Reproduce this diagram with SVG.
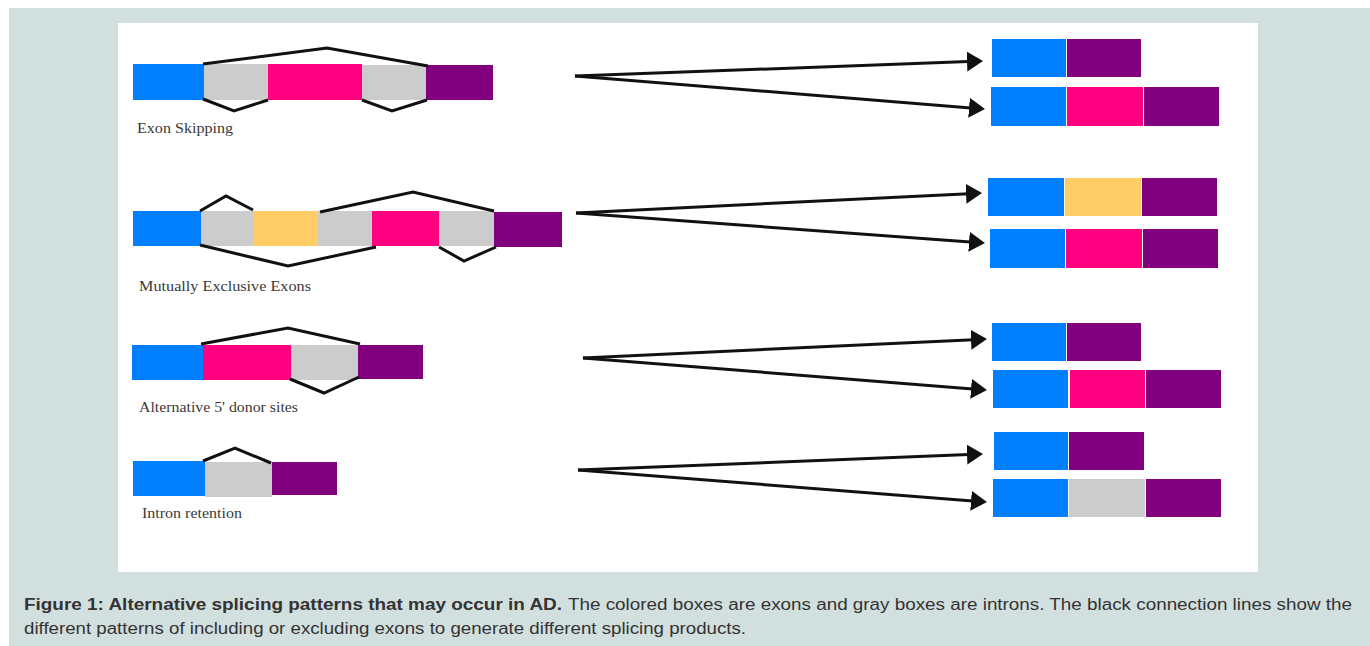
<svg xmlns="http://www.w3.org/2000/svg" width="1370" height="646" viewBox="0 0 1370 646">
  <style>
    .blue{fill:#0080ff}
    .pink{fill:#ff0080}
    .purple{fill:#800080}
    .gray{fill:#cccccc}
    .yellow{fill:#ffcc66}
    .splice{fill:none;stroke:#111;stroke-width:3;stroke-linejoin:miter}
    .arrow{fill:none;stroke:#111;stroke-width:3}
    .label{font-family:"Liberation Serif","Times New Roman",serif;font-size:15px;fill:#3a3a3a}
    .cap{font-family:"Liberation Sans",Arial,sans-serif;font-size:16px;fill:#333}
    .capb{font-weight:bold}
  </style>
  <defs>
    <marker id="head" markerUnits="userSpaceOnUse" viewBox="0 0 16 20" markerWidth="16" markerHeight="20" refX="8" refY="10" orient="auto">
      <path d="M0,0 L16,10 L0,20 z" fill="#111"/>
    </marker>
  </defs>

  <rect x="0" y="0" width="1370" height="646" fill="#ffffff"/>
  <rect x="9" y="8" width="1361" height="638" fill="#d2dfdf"/>
  <rect x="118" y="23" width="1140" height="549" fill="#ffffff"/>

  <!-- Row 1: Exon skipping -->
  <g id="gene-exon-skipping">
    <rect class="blue" x="133" y="64" width="71" height="36"/>
    <rect class="gray" x="204" y="64" width="64" height="36"/>
    <rect class="pink" x="268" y="64" width="94" height="36"/>
    <rect class="gray" x="362" y="65" width="64" height="35"/>
    <rect class="purple" x="426" y="65" width="67" height="35"/>
    <polyline class="splice" points="203,64 327,48 428,66"/>
    <polyline class="splice" points="203,99 234,111 268,100"/>
    <polyline class="splice" points="362,100 392,111 427,100"/>
    <text class="label" x="137" y="133" textLength="96" lengthAdjust="spacingAndGlyphs">Exon Skipping</text>
  </g>

  <!-- Row 2: Mutually exclusive exons -->
  <g id="gene-mutually-exclusive">
    <rect class="blue" x="133" y="211" width="68" height="35"/>
    <rect class="gray" x="201" y="211" width="52" height="35"/>
    <rect class="yellow" x="253" y="211" width="65" height="35"/>
    <rect class="gray" x="318" y="211" width="54" height="35"/>
    <rect class="pink" x="372" y="211" width="67" height="35"/>
    <rect class="gray" x="439" y="211" width="55" height="35"/>
    <rect class="purple" x="494" y="212" width="68" height="35"/>
    <polyline class="splice" points="200,211 226,196 253,210"/>
    <polyline class="splice" points="320,212 413,192 494,211"/>
    <polyline class="splice" points="200,245 288,266 376,247"/>
    <polyline class="splice" points="439,247 464,261 496,247"/>
    <text class="label" x="139" y="291" textLength="172" lengthAdjust="spacingAndGlyphs">Mutually Exclusive Exons</text>
  </g>

  <!-- Row 3: Alternative 5' donor sites -->
  <g id="gene-alt-donor">
    <rect class="blue" x="132" y="345" width="71" height="35"/>
    <rect class="pink" x="203" y="345" width="88" height="35"/>
    <rect class="gray" x="291" y="345" width="67" height="35"/>
    <rect class="purple" x="358" y="345" width="65" height="34"/>
    <polyline class="splice" points="201,344 288,328 360,344"/>
    <polyline class="splice" points="290,379 324,393 359,377"/>
    <text class="label" x="139" y="412" textLength="159" lengthAdjust="spacingAndGlyphs">Alternative 5' donor sites</text>
  </g>

  <!-- Row 4: Intron retention -->
  <g id="gene-intron-retention">
    <rect class="blue" x="133" y="461" width="72" height="35"/>
    <rect class="gray" x="205" y="462" width="67" height="35"/>
    <rect class="purple" x="272" y="462" width="65" height="33"/>
    <polyline class="splice" points="203,461 235,448 271,463"/>
    <text class="label" x="142" y="518" textLength="100" lengthAdjust="spacingAndGlyphs">Intron retention</text>
  </g>

  <!-- Products -->
  <g id="product-1a">
    <rect class="blue" x="992" y="39" width="74" height="38"/>
    <rect class="purple" x="1067" y="39" width="74" height="38"/>
  </g>
  <g id="product-1b">
    <rect class="blue" x="991" y="87" width="75" height="39"/>
    <rect class="pink" x="1067" y="87" width="76" height="39"/>
    <rect class="purple" x="1144" y="87" width="75" height="39"/>
  </g>
  <g id="product-2a">
    <rect class="blue" x="988" y="178" width="76" height="38"/>
    <rect class="yellow" x="1065" y="178" width="76" height="38"/>
    <rect class="purple" x="1142" y="178" width="75" height="38"/>
  </g>
  <g id="product-2b">
    <rect class="blue" x="990" y="229" width="75" height="39"/>
    <rect class="pink" x="1066" y="229" width="76" height="39"/>
    <rect class="purple" x="1143" y="229" width="75" height="39"/>
  </g>
  <g id="product-3a">
    <rect class="blue" x="992" y="323" width="74" height="38"/>
    <rect class="purple" x="1067" y="323" width="74" height="38"/>
  </g>
  <g id="product-3b">
    <rect class="blue" x="993" y="370" width="75" height="38"/>
    <rect class="pink" x="1070" y="370" width="75" height="38"/>
    <rect class="purple" x="1146" y="370" width="75" height="38"/>
  </g>
  <g id="product-4a">
    <rect class="blue" x="994" y="432" width="74" height="38"/>
    <rect class="purple" x="1069" y="432" width="75" height="38"/>
  </g>
  <g id="product-4b">
    <rect class="blue" x="993" y="479" width="75" height="38"/>
    <rect class="gray" x="1069" y="479" width="76" height="38"/>
    <rect class="purple" x="1146" y="479" width="75" height="38"/>
  </g>

  <!-- Connectors -->
  <g id="connectors">
    <line class="arrow" x1="575" y1="76" x2="975" y2="61.3" marker-end="url(#head)"/>
    <line class="arrow" x1="575" y1="76" x2="977" y2="108.4" marker-end="url(#head)"/>
    <line class="arrow" x1="576" y1="213" x2="974" y2="193.4" marker-end="url(#head)"/>
    <line class="arrow" x1="576" y1="213" x2="977" y2="242.4" marker-end="url(#head)"/>
    <line class="arrow" x1="583" y1="358" x2="979" y2="339.4" marker-end="url(#head)"/>
    <line class="arrow" x1="583" y1="358" x2="979" y2="389.4" marker-end="url(#head)"/>
    <line class="arrow" x1="578" y1="470" x2="975" y2="454.3" marker-end="url(#head)"/>
    <line class="arrow" x1="578" y1="470" x2="979" y2="501.4" marker-end="url(#head)"/>
  </g>

  <!-- Caption -->
  <g id="caption">
    <text class="cap capb" x="24" y="610" textLength="538" lengthAdjust="spacingAndGlyphs">Figure 1: Alternative splicing patterns that may occur in AD.</text>
    <text class="cap" x="568" y="610" textLength="784" lengthAdjust="spacingAndGlyphs">The colored boxes are exons and gray boxes are introns. The black connection lines show the</text>
    <text class="cap" x="24" y="634" textLength="722" lengthAdjust="spacingAndGlyphs">different patterns of including or excluding exons to generate different splicing products.</text>
  </g>
</svg>
